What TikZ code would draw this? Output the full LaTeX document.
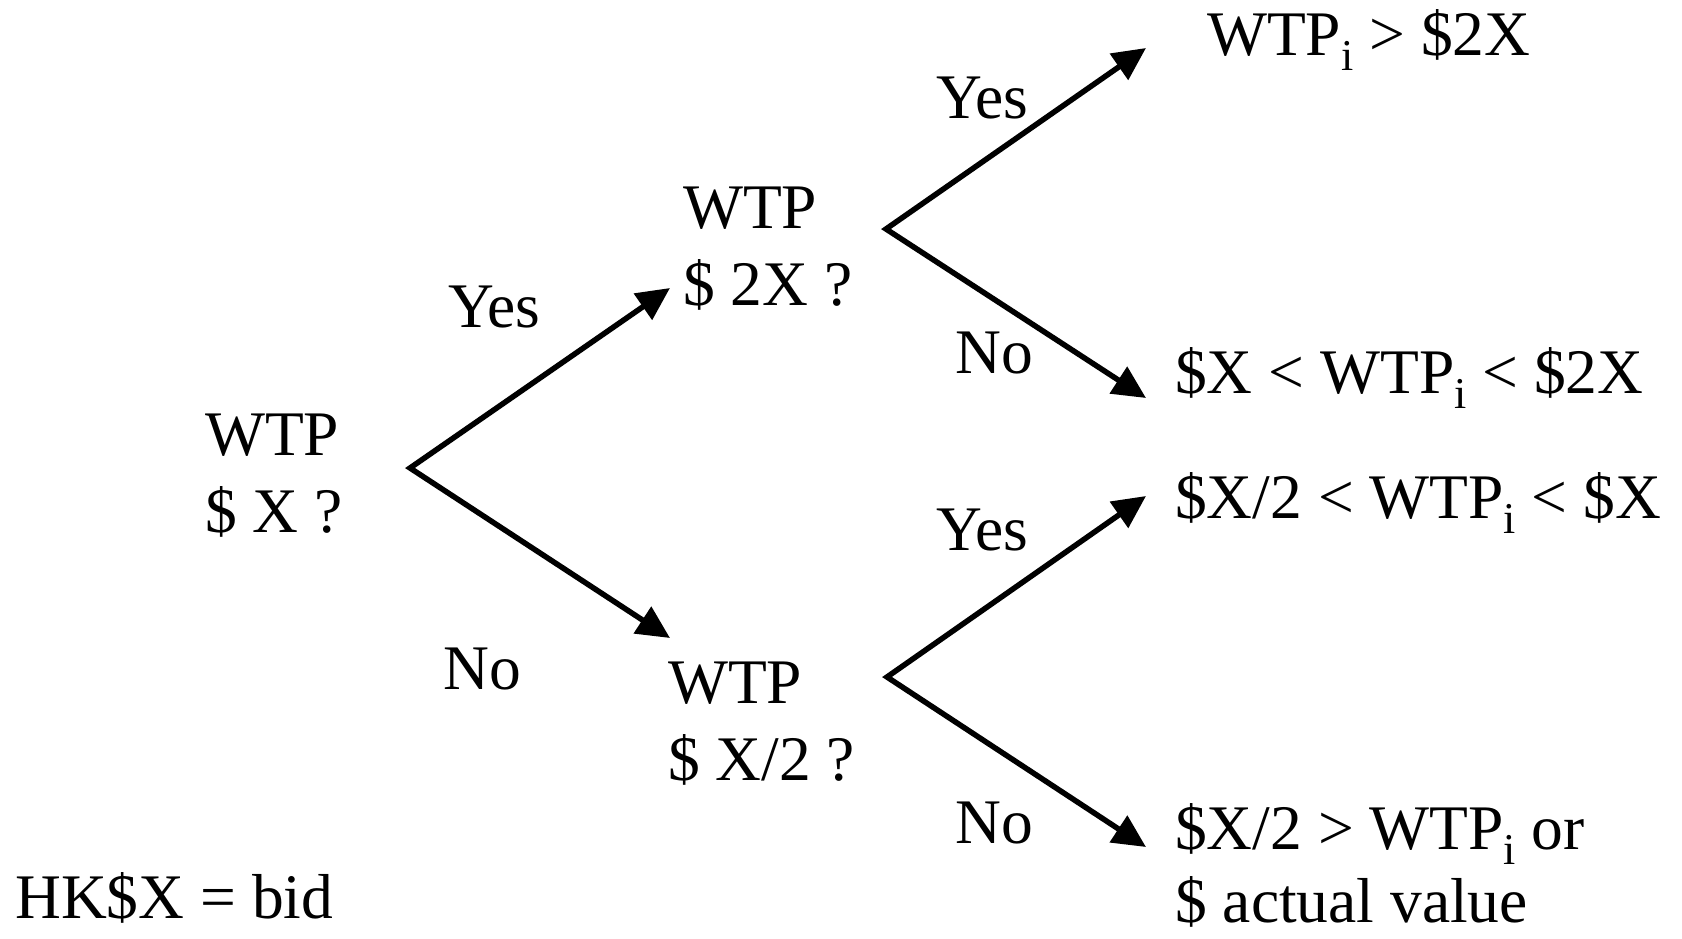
\documentclass[tikz,border=0pt]{standalone}
\usepackage{fontspec}
\setmainfont{Liberation Serif}
\usetikzlibrary{arrows.meta}
\newcommand\wsub{\raisebox{-15pt}{\fontsize{44}{44}\selectfont i}}
\begin{document}
\begin{tikzpicture}[x=1pt,y=-1pt,
  txt/.style={inner sep=0pt, anchor=base west, align=left, font=\fontsize{63.5}{77}\selectfont},
  arr/.style={line width=5.5pt, line join=miter, {Triangle[length=33pt,width=31pt]}-{Triangle[length=33pt,width=31pt]}}]
\useasboundingbox (0,0) rectangle (1682,938);
% decision nodes (anchor = baseline of last line)
\node[txt] (root) at (205,532) {WTP\\\$ X ?};
\node[txt] (up) at (683,305) {WTP\\\$ 2X ?};
\node[txt] (low) at (668,780) {WTP\\\$ X/2 ?};
% outcomes
\node[txt] (o1) at (1207,55) {WTP\wsub\ > \$2X};
\node[txt] (o2) at (1175,393) {\$X < WTP\wsub\ < \$2X};
\node[txt] (o3) at (1175,518) {\$X/2 < WTP\wsub\ < \$X};
\node[txt] (o4) at (1175,922) {\$X/2 > WTP\wsub\ or\\[-4pt]\$ actual value};
\node[txt] (bid) at (15,918) {HK\$X = bid};
% branch labels
\node[txt] (y1) at (448,327) {Yes};
\node[txt] (n1) at (443,689) {No};
\node[txt] (y2) at (936,118) {Yes};
\node[txt] (n2) at (955,373) {No};
\node[txt] (y3) at (936,550) {Yes};
\node[txt] (n3) at (955,843) {No};
% fork points and arrow tips
\coordinate (f0) at (410,468);
\coordinate (t1) at (670,288);
\coordinate (t2) at (670,638);
\coordinate (f1) at (886,229);
\coordinate (t3) at (1146,48);
\coordinate (t4) at (1146,398);
\coordinate (f2) at (887,677);
\coordinate (t5) at (1146,496);
\coordinate (t6) at (1146,847);
\draw[arr] (t1) -- (f0) -- (t2);
\draw[arr] (t3) -- (f1) -- (t4);
\draw[arr] (t5) -- (f2) -- (t6);
\end{tikzpicture}
\end{document}
